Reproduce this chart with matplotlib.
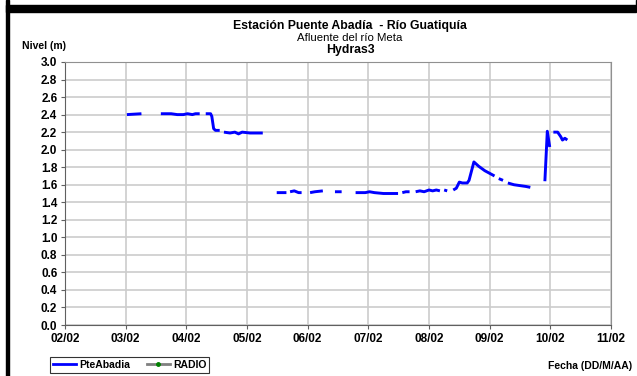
import numpy as np
import pandas as pd
import matplotlib
matplotlib.use("Agg")
import matplotlib.pyplot as plt
from matplotlib.patches import Rectangle
from matplotlib.lines import Line2D

plt.rcParams['font.family'] = ['Liberation Sans', 'DejaVu Sans']

# ---- data (day offset from 02/02 00:00, level in m); None = gap ----
base_date = "2011-02-02"
day_offset = [1.02, 1.26, None,
              1.58, 1.75, 1.85, 1.95, 2.02, 2.10, 2.15, 2.22, None,
              2.32, 2.40, 2.42, 2.45, 2.48, 2.55, None,
              2.62, 2.72, 2.80, 2.86, 2.92, 3.05, 3.26, None,
              3.49, 3.65, None,
              3.71, 3.78, 3.85, 3.90, None,
              4.04, 4.12, 4.25, None,
              4.45, 4.56, None,
              4.79, 4.95, 5.02, 5.10, 5.25, 5.49, None,
              5.56, 5.62, 5.68, None,
              5.78, 5.85, 5.92, 6.00, 6.06, 6.12, 6.18, None,
              6.25, 6.30, None,
              6.40, 6.45, 6.50, 6.55, 6.63, 6.66, 6.74, 6.82, 6.92, 7.00, 7.08, None,
              7.15, 7.22, None,
              7.30, 7.40, 7.50, 7.60, 7.67, None,
              7.91, 7.95, 7.99, None,
              8.05, 8.12, 8.17, 8.20, 8.24, 8.28]
nivel = [2.40, 2.41, None,
         2.41, 2.41, 2.40, 2.40, 2.41, 2.40, 2.41, 2.41, None,
         2.41, 2.41, 2.38, 2.24, 2.22, 2.22, None,
         2.20, 2.19, 2.20, 2.18, 2.20, 2.19, 2.19, None,
         1.51, 1.51, None,
         1.52, 1.53, 1.51, 1.51, None,
         1.51, 1.52, 1.53, None,
         1.52, 1.52, None,
         1.51, 1.51, 1.52, 1.51, 1.50, 1.50, None,
         1.51, 1.52, 1.52, None,
         1.52, 1.53, 1.52, 1.54, 1.53, 1.54, 1.53, None,
         1.54, 1.53, None,
         1.54, 1.56, 1.63, 1.62, 1.62, 1.65, 1.86, 1.81, 1.76, 1.73, 1.70, None,
         1.67, 1.65, None,
         1.62, 1.60, 1.59, 1.58, 1.57, None,
         1.64, 2.21, 2.03, None,
         2.20, 2.20, 2.15, 2.11, 2.13, 2.11]

xtick_labels = ["02/02", "03/02", "04/02", "05/02", "06/02", "07/02",
                "08/02", "09/02", "10/02", "11/02"]
yticks = [0.0, 0.2, 0.4, 0.6, 0.8, 1.0, 1.2, 1.4, 1.6, 1.8, 2.0, 2.2, 2.4, 2.6, 2.8, 3.0]

t0 = pd.Timestamp(base_date)
vals = np.array([v if v is not None else np.nan for v in nivel], dtype=float)
times_f = []
prev = t0
for d in day_offset:
    if d is None:
        times_f.append(prev)
    else:
        prev = t0 + pd.Timedelta(days=d)
        times_f.append(prev)

fig = plt.figure(figsize=(6.37, 3.76), dpi=100)
W, H = 637, 376
ax = fig.add_axes([65 / W, 1 - 325 / H, (611 - 65) / W, (325 - 62) / H])

ax.plot(times_f, vals, color='#0000FF', lw=2.1, solid_capstyle='butt')

xt = [t0 + pd.Timedelta(days=i) for i in range(len(xtick_labels))]
ax.set_xlim(xt[0], xt[-1])
ax.set_xticks(xt)
ax.set_xticklabels(xtick_labels, fontsize=8.5, fontweight='bold')
ax.set_ylim(0, 3.0)
ax.set_yticks(yticks)
ax.set_yticklabels([f"{v:.1f}" for v in yticks], fontsize=8.5, fontweight='bold')
ax.grid(True, color='#CCCCCC', lw=1.2)
ax.set_axisbelow(True)
for s in ['top', 'right']:
    ax.spines[s].set_color('#909090')
for s in ['left', 'bottom']:
    ax.spines[s].set_color('#606060')
ax.tick_params(direction='out', length=3, width=0.8, color='#606060', pad=2.5)

# titles
fig.text(350 / W, 1 - 26 / H, "Estación Puente Abadía  - Río Guatiquía", ha='center', va='center',
         fontsize=8.8, fontweight='bold')
fig.text(350 / W, 1 - 38 / H, "Afluente del río Meta", ha='center', va='center', fontsize=8.2)
fig.text(350 / W, 1 - 50 / H, "Hydras3", ha='center', va='center', fontsize=8.8, fontweight='bold')
fig.text(22 / W, 1 - 46 / H, "Nivel (m)", ha='left', va='center', fontsize=7.5, fontweight='bold')
fig.text(632 / W, 1 - 366 / H, "Fecha (DD/M/AA)", ha='right', va='center', fontsize=7.5, fontweight='bold')

# legend
handles = [Line2D([], [], color='#0000FF', lw=2),
           Line2D([], [], color='#808080', lw=2, marker='o', markersize=2.5,
                  markerfacecolor='#008000', markeredgecolor='#008000')]
leg = fig.legend(handles, ["PteAbadia", "RADIO"], loc='lower left',
                 bbox_to_anchor=(50 / W, 1 - 373 / H), ncol=2, frameon=True,
                 fancybox=False, edgecolor='black',
                 prop={'weight': 'bold', 'size': 7.5},
                 handlelength=2.2, handletextpad=0.3, columnspacing=1.6,
                 borderpad=0.3, borderaxespad=0)
leg.get_frame().set_linewidth(0.8)

# black frame pieces
fig.patches.append(Rectangle((6 / W, 0), 3 / W, 1, transform=fig.transFigure,
                             color='black', zorder=10))
fig.patches.append(Rectangle((6 / W, 1 - 12 / H), (636 - 6) / W, 7 / H, transform=fig.transFigure,
                             color='black', zorder=10))
fig.patches.append(Rectangle((635.5 / W, 1 - 6 / H), 1 / W, 6 / H, transform=fig.transFigure,
                             color='black', zorder=10))

fig.savefig("out.png", dpi=100)
